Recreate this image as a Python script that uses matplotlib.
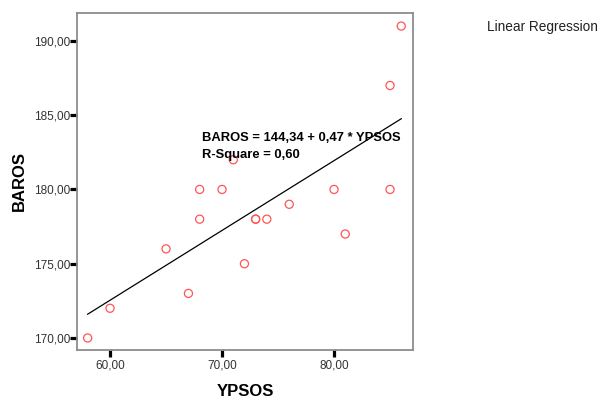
import matplotlib
matplotlib.use("Agg")
import matplotlib.pyplot as plt
import numpy as np

plt.rcParams["font.family"] = ["Liberation Sans", "DejaVu Sans"]

ypsos = [58, 60, 65, 67, 68, 68, 70, 71, 72, 73, 73, 74, 76, 80, 81, 85, 85, 86]
baros = [170, 172, 176, 173, 180, 178, 180, 182, 175, 178, 178, 178, 179, 180, 177, 180, 187, 191]
intercept = 144.34
slope = 0.47
r_square = 0.60
xticks = [60, 70, 80]
yticks = [170, 175, 180, 185, 190]

def fmt(v):
    return f"{v:.2f}".replace(".", ",")

fig = plt.figure(figsize=(6.01, 4.0), dpi=100)
ax = fig.add_axes([77/601, 50/400, (413-77)/601, (350-13)/400])

ax.scatter(ypsos, baros, s=34, facecolors="none", edgecolors="#ff5555", linewidths=0.9, zorder=3)
xl = np.array([min(ypsos), max(ypsos)])
ax.plot(xl, intercept + slope*xl, color="black", lw=0.9, zorder=2)

ax.set_xlim(57.05, 87.05)
ax.set_ylim(169.19, 191.88)
ax.set_xticks(xticks)
ax.set_xticklabels([fmt(v) for v in xticks])
ax.set_yticks(yticks)
ax.set_yticklabels([fmt(v) for v in yticks])
ax.tick_params(direction="out", length=5, width=2.3, color="black", labelsize=8.5,
               labelcolor="#333333")
ax.tick_params(axis="y", pad=0)
ax.tick_params(axis="x", pad=2)
for sp in ax.spines.values():
    sp.set_color("#8c8c8c")
    sp.set_linewidth(1.3)

fig.text(245.5/601, 1 - 399.5/400, "YPSOS", fontsize=12, fontweight="bold",
         ha="center", va="bottom")
fig.text(19/601, 1 - 181/400, "BAROS", fontsize=12, fontweight="bold",
         ha="center", va="center", rotation=90)

fig.text(202/601, 1 - 138/400, f"BAROS = {fmt(intercept)} + {fmt(slope)} * YPSOS",
         fontsize=9.4, fontweight="bold", va="center", ha="left")
fig.text(202/601, 1 - 155/400, f"R-Square = {fmt(r_square)}",
         fontsize=9.4, fontweight="bold", va="center", ha="left")

fig.text(487/601, 1 - 27/400, "Linear Regression", fontsize=9.8, va="center", ha="left", color="#222222")

fig.savefig("out.png", dpi=100)
